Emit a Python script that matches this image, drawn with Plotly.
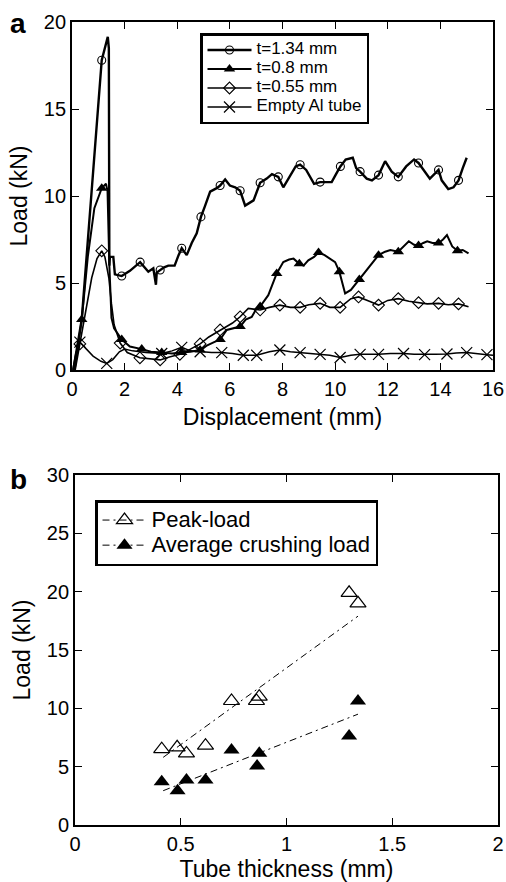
import plotly.graph_objects as go

# ---------------- Panel a: load-displacement curves ----------------
t134_disp = [0.05, 0.37, 1.13, 1.36, 1.40, 1.42, 1.44, 1.57, 1.63, 1.89, 2.2, 2.59, 2.75, 2.9, 3.09,
             3.19, 3.22, 3.35, 3.5, 3.66, 3.9, 4.05, 4.17, 4.36, 4.55, 4.74, 4.9, 5.05, 5.25, 5.5,
             5.63, 5.82, 6.0, 6.2, 6.39, 6.58, 6.9, 7.15, 7.4, 7.6, 7.84, 8.03, 8.35, 8.5, 8.67,
             8.9, 9.2, 9.43, 9.68, 9.87, 10.05, 10.2, 10.4, 10.67, 10.8, 10.95, 11.2, 11.4, 11.65,
             11.9, 12.15, 12.4, 12.7, 13.0, 13.17, 13.4, 13.6, 13.8, 13.93, 14.05, 14.3, 14.5,
             14.69, 14.85, 15.0]
t134_load = [0.0, 2.9, 17.8, 19.15, 18.5, 6.0, 6.5, 6.5, 5.5, 5.4, 5.7, 6.2, 5.9, 5.65, 5.85,
             4.9, 5.6, 5.75, 5.9, 6.0, 6.0, 6.6, 7.0, 6.6, 7.3, 7.85, 8.8, 9.4, 10.25, 10.45,
             10.6, 10.95, 10.6, 10.5, 10.3, 9.45, 9.75, 10.76, 11.0, 11.26, 11.1, 10.5, 11.3, 11.7, 11.8,
             11.5, 10.7, 10.8, 10.8, 10.8, 11.3, 11.7, 12.1, 12.2, 11.6, 11.4, 11.0, 10.9, 11.2,
             12.0, 11.4, 11.1, 11.7, 12.1, 11.9, 11.4, 11.0, 11.3, 11.5, 10.9, 10.4, 10.5,
             10.9, 11.6, 12.2]
t134_mark_x = [1.13, 1.89, 2.59, 3.35, 4.17, 4.9, 5.63, 6.39, 7.15, 7.84, 8.67, 9.43, 10.2, 10.95,
               11.65, 12.4, 13.17, 13.93, 14.69]
t134_mark_y = [17.8, 5.4, 6.2, 5.75, 7.0, 8.8, 10.6, 10.3, 10.76, 11.1, 11.8, 10.8, 11.7, 11.4,
               11.2, 11.1, 11.9, 11.5, 10.9]

t08_disp = [0.1, 0.2, 0.37, 0.6, 0.85, 1.13, 1.29, 1.35, 1.42, 1.5, 1.6, 1.89, 2.2, 2.65, 3.0,
            3.41, 3.8, 4.17, 4.5, 4.87, 5.12, 5.4, 5.63, 5.88, 6.1, 6.39, 6.6, 6.83, 7.0, 7.15,
            7.46, 7.78, 8.03, 8.25, 8.42, 8.64, 8.8, 8.98, 9.2, 9.37, 9.6, 10.0, 10.16, 10.28,
            10.38, 10.6, 10.92, 11.33, 11.65, 11.9, 12.1, 12.4, 12.6, 12.8, 13.0, 13.17, 13.35,
            13.5, 13.7, 13.93, 14.1, 14.25, 14.45, 14.65, 14.85, 15.07]
t08_load = [0.0, 1.0, 2.9, 6.5, 9.3, 10.45, 10.7, 10.3, 6.0, 3.0, 2.4, 1.75, 1.35, 1.2, 1.05,
            1.0, 0.95, 1.0, 1.05, 1.15, 1.4, 1.6, 1.75, 2.3, 2.4, 2.5, 2.9, 3.05, 3.5, 3.65,
            4.3, 5.55, 6.2, 6.35, 6.4, 6.1, 6.0, 6.3, 6.5, 6.75, 6.6, 6.2, 5.65, 5.0,
            4.4, 4.6, 5.2, 6.0, 6.6, 6.8, 6.9, 6.8, 7.1, 7.4, 7.2, 7.15, 7.3,
            7.4, 7.3, 7.3, 7.5, 7.75, 7.1, 6.85, 6.9, 6.7]
t08_mark_x = [0.37, 1.13, 1.89, 2.65, 3.41, 4.17, 4.87, 5.63, 6.39, 7.15, 7.78, 8.64, 9.37, 10.16,
              10.92, 11.65, 12.4, 13.17, 13.93, 14.65]
t08_mark_y = [2.9, 10.45, 1.75, 1.2, 1.0, 1.0, 1.15, 1.75, 2.5, 3.65, 5.55, 6.1, 6.75, 5.65,
              5.2, 6.6, 6.8, 7.15, 7.3, 6.85]

t055_disp = [0.12, 0.3, 0.5, 0.75, 0.95, 1.13, 1.25, 1.4, 1.5, 1.6, 1.83, 2.1, 2.58, 3.0, 3.35,
             3.7, 4.1, 4.5, 4.87, 5.2, 5.63, 5.9, 6.1, 6.39, 6.7, 6.9, 7.15, 7.5, 7.9, 8.3, 8.67,
             9.0, 9.43, 9.8, 10.19, 10.6, 10.89, 11.3, 11.65, 12.0, 12.4, 12.8, 13.17, 13.5,
             13.93, 14.3, 14.69, 15.07]
t055_load = [0.0, 1.5, 3.3, 5.3, 6.4, 6.85, 6.5, 5.3, 3.8, 2.6, 1.55, 1.0, 0.7, 0.62, 0.58,
             0.75, 0.9, 1.2, 1.5, 1.9, 2.3, 2.55, 2.7, 3.06, 3.54, 3.5, 3.45, 3.6, 3.73, 3.6, 3.6,
             3.75, 3.83, 3.6, 3.6, 4.1, 4.2, 3.95, 3.73, 4.0, 4.1, 3.95, 3.87, 3.8,
             3.83, 3.75, 3.8, 3.64]
t055_mark_x = [0.3, 1.13, 1.83, 2.58, 3.35, 4.1, 4.87, 5.63, 6.39, 7.15, 7.9, 8.67, 9.43, 10.19,
               10.89, 11.65, 12.4, 13.17, 13.93, 14.69]
t055_mark_y = [1.5, 6.85, 1.55, 0.7, 0.58, 0.9, 1.5, 2.3, 3.06, 3.45, 3.73, 3.6, 3.83, 3.6,
               4.2, 3.73, 4.1, 3.87, 3.83, 3.8]

empty_disp = [0.03, 0.15, 0.3, 0.5, 0.8, 1.1, 1.32, 1.55, 1.8, 2.0, 2.3, 2.8, 3.41, 3.8, 4.17,
              4.5, 4.87, 5.3, 5.69, 6.1, 6.51, 7.02, 7.5, 7.9, 8.3, 8.67, 9.0, 9.43, 9.8, 10.19,
              10.6, 10.95, 11.3, 11.65, 12.1, 12.6, 13.0, 13.4, 13.8, 14.25, 14.6, 15.0, 15.4,
              15.77, 16.0]
empty_load = [0.0, 1.0, 1.6, 1.3, 0.8, 0.5, 0.38, 0.6, 1.05, 1.2, 1.1, 1.0, 0.95, 1.1, 1.3,
              1.1, 1.05, 1.0, 1.0, 0.95, 0.85, 0.85, 1.05, 1.15, 1.05, 1.0, 0.95, 0.9, 0.85, 0.72,
              0.85, 0.9, 0.9, 0.9, 0.95, 0.95, 0.9, 0.88, 0.9, 0.92, 0.98, 1.0, 0.92,
              0.88, 0.85]
empty_mark_x = [0.3, 1.32, 3.41, 4.17, 4.87, 5.69, 6.51, 7.02, 7.9, 8.67, 9.43, 10.19, 10.95,
                11.65, 12.6, 13.4, 14.25, 15.0, 15.77]
empty_mark_y = [1.6, 0.38, 0.95, 1.3, 1.05, 1.0, 0.85, 0.85, 1.15, 1.0, 0.9, 0.72, 0.9,
                0.9, 0.95, 0.88, 0.92, 1.0, 0.88]

# ---------------- Panel b: load vs tube thickness ----------------
thickness = [0.41, 0.483, 0.527, 0.617, 0.74, 0.858, 0.871, 1.296, 1.338]
peak_load = [6.5, 6.66, 6.14, 6.8, 10.63, 10.63, 11.0, 19.9, 19.0]
thickness_avg = [0.41, 0.485, 0.527, 0.617, 0.74, 0.861, 0.871, 1.296, 1.338]
avg_load = [3.71, 2.94, 3.86, 3.86, 6.43, 5.06, 6.14, 7.63, 10.63]
fit_x = [0.417, 1.338]
fit_peak = [5.8, 17.9]
fit_avg = [2.94, 9.5]

FONT = "Liberation Sans, Arial, Helvetica, sans-serif"
BLACK = "black"


def sized(text, px):
    return f'<span style="font-size:{px}px">{text}</span>'


fig = go.Figure()

series_a = [
    ("t=1.34 mm", t134_disp, t134_load, t134_mark_x, t134_mark_y, 2.4,
     dict(symbol="circle-open", size=8, color=BLACK, line=dict(width=1.1, color=BLACK))),
    ("t=0.8 mm", t08_disp, t08_load, t08_mark_x, t08_mark_y, 2.0,
     dict(symbol="triangle-up", size=10, color=BLACK, line=dict(width=0))),
    ("t=0.55 mm", t055_disp, t055_load, t055_mark_x, t055_mark_y, 1.6,
     dict(symbol="diamond-open", size=9, color=BLACK, line=dict(width=1.1, color=BLACK))),
    ("Empty Al tube", empty_disp, empty_load, empty_mark_x, empty_mark_y, 1.5,
     dict(symbol="x-thin-open", size=11, color=BLACK, line=dict(width=1.2, color=BLACK))),
]

for name, xs, ys, mx, my, lw, mk in series_a:
    fig.add_trace(go.Scatter(x=xs, y=ys, mode="lines", line=dict(color=BLACK, width=lw),
                             showlegend=False, xaxis="x", yaxis="y"))
    fig.add_trace(go.Scatter(x=mx, y=my, mode="markers", marker=mk,
                             showlegend=False, xaxis="x", yaxis="y"))
    # legend key
    fig.add_trace(go.Scatter(x=[None], y=[None], mode="lines+markers", name=sized(name, 17),
                             line=dict(color=BLACK, width=lw), marker=mk,
                             legend="legend", xaxis="x", yaxis="y"))

DASHDOT = "7px,4px,2px,4px"
open_tri = dict(symbol="triangle-up-open", size=14, color=BLACK, line=dict(width=1.2, color=BLACK))
full_tri = dict(symbol="triangle-up", size=14, color=BLACK, line=dict(width=0))

fig.add_trace(go.Scatter(x=fit_x, y=fit_peak, mode="lines", line=dict(color=BLACK, width=1, dash=DASHDOT),
                         showlegend=False, xaxis="x2", yaxis="y2"))
fig.add_trace(go.Scatter(x=fit_x, y=fit_avg, mode="lines", line=dict(color=BLACK, width=1, dash=DASHDOT),
                         showlegend=False, xaxis="x2", yaxis="y2"))
fig.add_trace(go.Scatter(x=thickness, y=peak_load, mode="markers", marker=open_tri,
                         showlegend=False, xaxis="x2", yaxis="y2"))
fig.add_trace(go.Scatter(x=thickness_avg, y=avg_load, mode="markers", marker=full_tri,
                         showlegend=False, xaxis="x2", yaxis="y2"))
fig.add_trace(go.Scatter(x=[None], y=[None], mode="lines+markers", name=sized("Peak-load", 22),
                         line=dict(color=BLACK, width=1, dash=DASHDOT), marker=open_tri,
                         legend="legend2", xaxis="x2", yaxis="y2"))
fig.add_trace(go.Scatter(x=[None], y=[None], mode="lines+markers", name=sized("Average crushing load", 22),
                         line=dict(color=BLACK, width=1, dash=DASHDOT), marker=full_tri,
                         legend="legend2", xaxis="x2", yaxis="y2"))

W, H = 506, 882


def ax(domain, rng, dtick, title, standoff, anchor):
    return dict(domain=domain, range=rng, dtick=dtick, tick0=0, ticks="inside", ticklen=7,
                tickwidth=1.3, tickcolor=BLACK, showline=True, linecolor=BLACK, linewidth=1.8,
                mirror="ticks", showgrid=False, zeroline=False, anchor=anchor, automargin=False,
                tickfont=dict(family=FONT, size=20, color=BLACK),
                title=dict(text=title, font=dict(family=FONT, size=23, color=BLACK), standoff=standoff))


fig.update_layout(
    width=W, height=H,
    margin=dict(l=0, r=0, t=0, b=0, pad=0, autoexpand=False),
    paper_bgcolor="white", plot_bgcolor="white",
    font=dict(family=FONT, color=BLACK),
    xaxis=ax([72 / W, 493 / W], [0, 16], 2, "Displacement (mm)", 10, "y"),
    yaxis=ax([(H - 370) / H, (H - 22) / H], [0, 20], 5, "Load (kN)", 10, "x"),
    xaxis2=ax([75 / W, 498 / W], [0, 2], 0.5, "Tube thickness (mm)", 10, "y2"),
    yaxis2=ax([(H - 825) / H, (H - 475) / H], [0, 30], 5, "Load (kN)", 10, "x2"),
    legend=dict(x=200 / W, y=(H - 33) / H, xanchor="left", yanchor="top",
                bordercolor=BLACK, borderwidth=2.5, bgcolor="white", itemwidth=44,
                font=dict(family=FONT, size=11, color=BLACK), tracegroupgap=0),
    legend2=dict(x=95 / W, y=(H - 500) / H, xanchor="left", yanchor="top",
                 bordercolor=BLACK, borderwidth=2.5, bgcolor="white", itemwidth=44,
                 font=dict(family=FONT, size=17, color=BLACK), tracegroupgap=0),
    annotations=[
        dict(text="<b>a</b>", x=8 / W, y=(H - 6) / H, xref="paper", yref="paper",
             xanchor="left", yanchor="top", showarrow=False,
             font=dict(family=FONT, size=28, color=BLACK)),
        dict(text="<b>b</b>", x=8 / W, y=(H - 462) / H, xref="paper", yref="paper",
             xanchor="left", yanchor="top", showarrow=False,
             font=dict(family=FONT, size=28, color=BLACK)),
    ],
)

fig.write_html("out.html")
